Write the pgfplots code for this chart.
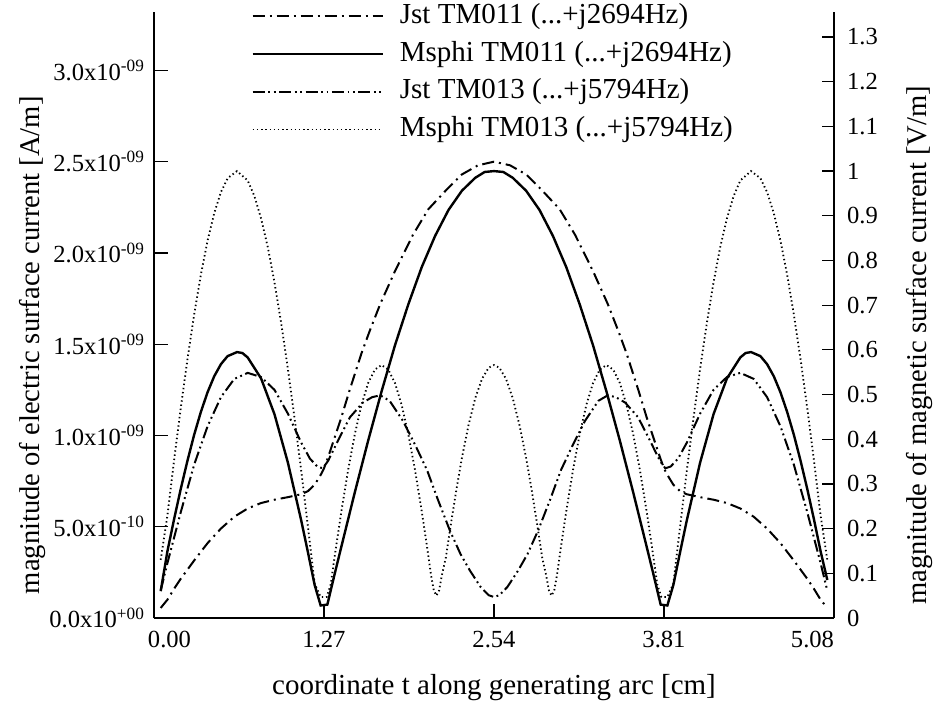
\documentclass[border=0pt]{standalone}
\usepackage{fontspec}
\setmainfont{Liberation Serif}
\usepackage{pgfplots}
\pgfplotsset{compat=1.18}
\usepackage{pgfplotstable}

\newcommand\tickfont{\fontsize{12.3}{14}\selectfont}
\newcommand\labfont{\fontsize{14.5}{17}\selectfont}
\newcommand\ylabfont{\fontsize{14.3}{17}\selectfont}

% Jst TM011 (left axis, A/m)
\pgfplotstableread{
t v
0.05 0.055e-9
0.10 0.10e-9
0.15 0.16e-9
0.20 0.215e-9
0.30 0.315e-9
0.40 0.41e-9
0.50 0.49e-9
0.60 0.555e-9
0.70 0.60e-9
0.80 0.63e-9
0.90 0.648e-9
1.00 0.662e-9
1.10 0.678e-9
1.15 0.695e-9
1.20 0.73e-9
1.25 0.79e-9
1.27 0.82e-9
1.30 0.88e-9
1.35 0.99e-9
1.40 1.10e-9
1.46 1.245e-9
1.55 1.45e-9
1.61 1.57e-9
1.69 1.72e-9
1.80 1.90e-9
1.935 2.10e-9
2.05 2.24e-9
2.19 2.35e-9
2.30 2.43e-9
2.42 2.48e-9
2.54 2.50e-9
2.66 2.48e-9
2.78 2.43e-9
2.89 2.35e-9
3.03 2.24e-9
3.145 2.10e-9
3.28 1.90e-9
3.39 1.72e-9
3.47 1.57e-9
3.53 1.45e-9
3.62 1.245e-9
3.68 1.10e-9
3.73 0.99e-9
3.78 0.88e-9
3.81 0.82e-9
3.83 0.79e-9
3.88 0.73e-9
3.93 0.695e-9
3.98 0.678e-9
4.08 0.662e-9
4.18 0.648e-9
4.28 0.63e-9
4.38 0.60e-9
4.48 0.555e-9
4.58 0.49e-9
4.68 0.41e-9
4.78 0.315e-9
4.88 0.215e-9
4.93 0.16e-9
4.98 0.10e-9
5.03 0.055e-9
}\jstA

% Jst TM013 (left axis, A/m)
\pgfplotstableread{
t v
0.05 0.15e-9
0.10 0.30e-9
0.20 0.58e-9
0.30 0.84e-9
0.40 1.05e-9
0.50 1.21e-9
0.60 1.31e-9
0.70 1.343e-9
0.80 1.32e-9
0.90 1.25e-9
1.00 1.12e-9
1.05 1.04e-9
1.10 0.96e-9
1.165 0.873e-9
1.22 0.83e-9
1.26 0.82e-9
1.30 0.86e-9
1.38 0.98e-9
1.464 1.10e-9
1.56 1.18e-9
1.63 1.21e-9
1.69 1.22e-9
1.76 1.19e-9
1.86 1.08e-9
1.95 0.95e-9
2.04 0.81e-9
2.12 0.65e-9
2.21 0.48e-9
2.29 0.35e-9
2.36 0.26e-9
2.44 0.17e-9
2.50 0.125e-9
2.54 0.115e-9
2.58 0.125e-9
2.64 0.17e-9
2.72 0.26e-9
2.79 0.35e-9
2.87 0.48e-9
2.96 0.65e-9
3.04 0.81e-9
3.13 0.95e-9
3.22 1.08e-9
3.32 1.19e-9
3.39 1.22e-9
3.45 1.21e-9
3.52 1.18e-9
3.616 1.10e-9
3.70 0.98e-9
3.78 0.86e-9
3.82 0.82e-9
3.86 0.83e-9
3.915 0.873e-9
3.98 0.96e-9
4.03 1.04e-9
4.08 1.12e-9
4.18 1.25e-9
4.28 1.32e-9
4.38 1.343e-9
4.48 1.31e-9
4.58 1.21e-9
4.68 1.05e-9
4.78 0.84e-9
4.88 0.58e-9
4.98 0.30e-9
5.03 0.15e-9
}\jstB

% Msphi TM011 (right axis, V/m)
\pgfplotstableread{
t w
0.05 0.06
0.10 0.149
0.15 0.221
0.20 0.289
0.25 0.352
0.30 0.410
0.35 0.461
0.40 0.505
0.45 0.541
0.50 0.568
0.55 0.586
0.62 0.595
0.66 0.593
0.70 0.583
0.80 0.536
0.90 0.456
1.00 0.348
1.10 0.218
1.15 0.147
1.20 0.074
1.245 0.028
1.295 0.03
1.35 0.099
1.40 0.160
1.50 0.281
1.60 0.397
1.70 0.507
1.80 0.610
1.90 0.702
2.00 0.785
2.10 0.855
2.20 0.913
2.30 0.956
2.40 0.985
2.47 0.998
2.54 1.0
2.61 0.998
2.68 0.985
2.78 0.956
2.88 0.913
2.98 0.855
3.08 0.785
3.18 0.702
3.28 0.610
3.38 0.507
3.48 0.397
3.58 0.281
3.68 0.160
3.73 0.099
3.785 0.03
3.835 0.028
3.88 0.074
3.93 0.147
3.98 0.218
4.08 0.348
4.18 0.456
4.28 0.536
4.38 0.583
4.42 0.593
4.46 0.595
4.53 0.586
4.58 0.568
4.63 0.541
4.68 0.505
4.73 0.461
4.78 0.410
4.83 0.352
4.88 0.289
4.93 0.221
4.98 0.149
5.03 0.085
}\msA

% Msphi TM013 (right axis, V/m)
\pgfplotstableread{
t w
0.05 0.13
0.10 0.229
0.15 0.353
0.20 0.470
0.25 0.579
0.30 0.679
0.35 0.768
0.40 0.844
0.45 0.906
0.50 0.953
0.55 0.984
0.62 1.0
0.70 0.979
0.75 0.944
0.80 0.894
0.85 0.830
0.90 0.751
0.95 0.660
1.00 0.558
1.05 0.447
1.10 0.329
1.15 0.204
1.20 0.077
1.245 0.047
1.29 0.047
1.32 0.075
1.36 0.159
1.40 0.239
1.45 0.331
1.50 0.411
1.55 0.477
1.60 0.526
1.65 0.556
1.70 0.566
1.75 0.556
1.80 0.526
1.85 0.477
1.90 0.411
1.95 0.331
2.00 0.239
2.04 0.159
2.07 0.095
2.09 0.062
2.11 0.05
2.13 0.062
2.15 0.095
2.18 0.135
2.22 0.214
2.26 0.289
2.30 0.358
2.35 0.432
2.40 0.492
2.45 0.535
2.50 0.560
2.54 0.566
2.58 0.560
2.63 0.535
2.68 0.492
2.73 0.432
2.78 0.358
2.82 0.289
2.86 0.214
2.90 0.135
2.93 0.095
2.95 0.062
2.97 0.05
2.99 0.062
3.01 0.095
3.04 0.159
3.08 0.239
3.13 0.331
3.18 0.411
3.23 0.477
3.28 0.526
3.33 0.556
3.38 0.566
3.43 0.556
3.48 0.526
3.53 0.477
3.58 0.411
3.63 0.331
3.68 0.239
3.72 0.159
3.76 0.075
3.79 0.047
3.835 0.047
3.88 0.077
3.93 0.204
3.98 0.329
4.03 0.447
4.08 0.558
4.13 0.660
4.18 0.751
4.23 0.830
4.28 0.894
4.33 0.944
4.38 0.979
4.46 1.0
4.53 0.984
4.58 0.953
4.63 0.906
4.68 0.844
4.73 0.768
4.78 0.679
4.83 0.579
4.88 0.470
4.93 0.353
4.98 0.229
5.03 0.13
}\msB

\tikzset{
  jstAstyle/.style={black, line width=1pt, line cap=butt, dash pattern=on 6pt off 2.5pt on 1pt off 2.5pt},
  msAstyle/.style={black, line width=1.2pt},
  jstBstyle/.style={black, line width=1pt, line cap=butt, dash pattern=on 6pt off 1.8pt on 0.9pt off 1.8pt on 0.9pt off 1.8pt},
  msBstyle/.style={black, line width=0.9pt, dash pattern=on 0.7pt off 1.4pt},
}

\begin{document}
\begin{tikzpicture}
\begin{axis}[
  at={(0pt,0pt)}, anchor=south west,
  scale only axis, width=340pt, height=303pt,
  xmin=0, xmax=5.08, ymin=0, ymax=3.32e-9,
  axis x line*=bottom, axis y line*=left,
  axis line style={-, line width=0.9pt},
  tick align=inside, major tick length=7pt,
  tick style={line width=0.6pt, black},
  xtick={0,1.27,2.54,3.81,5.08},
  xticklabels={\makebox[0pt][l]{\hspace*{-3pt}0.00},1.27,2.54,3.81,\makebox[0pt][r]{5.08}},
  ytick={0,0.5e-9,1e-9,1.5e-9,2e-9,2.5e-9,3e-9},
  yticklabels={0.0x10\textsuperscript{+00},5.0x10\textsuperscript{-10},1.0x10\textsuperscript{-09},1.5x10\textsuperscript{-09},2.0x10\textsuperscript{-09},2.5x10\textsuperscript{-09},3.0x10\textsuperscript{-09}},
  scaled y ticks=false, scaled x ticks=false,
  ticklabel style={font=\tickfont},
  yticklabel style={xshift=-1pt},
  xticklabel style={yshift=-3pt},
  xlabel style={font=\labfont, at={(axis description cs:0.5,-0.115)}, anchor=center},
  ylabel style={font=\ylabfont, at={(axis description cs:-0.179,0.45)}, anchor=center},
  xlabel={coordinate t along generating arc [cm]},
  ylabel={magnitude of electric surface current [A/m]},
]
\addplot[jstAstyle] table[x=t, y=v] {\jstA};
\addplot[jstBstyle] table[x=t, y=v] {\jstB};
\end{axis}
\begin{axis}[
  at={(0pt,0pt)}, anchor=south west,
  scale only axis, width=340pt, height=303pt,
  xmin=0, xmax=5.08, ymin=0, ymax=1.356,
  axis y line*=right, axis x line=none,
  ytick pos=right, yticklabel pos=right,
  axis line style={-, line width=0.9pt},
  tick align=inside, major tick length=6pt,
  tick style={line width=0.6pt, black},
  ytick={0,0.1,0.2,0.3,0.4,0.5,0.6,0.7,0.8,0.9,1,1.1,1.2,1.3},
  yticklabels={0,0.1,0.2,0.3,0.4,0.5,0.6,0.7,0.8,0.9,1,1.1,1.2,1.3},
  ticklabel style={font=\tickfont},
  yticklabel style={xshift=3pt},
  ylabel style={font=\ylabfont, at={(axis description cs:1.125,0.45)}, anchor=center},
  ylabel={magnitude of magnetic surface current [V/m]},
  legend style={at={(axis description cs:0.134,1.028)}, anchor=north west,
    draw=none, fill=none, font=\labfont, row sep=1.85pt, column sep=6.5pt,
    nodes={inner sep=1.5pt, text height=10.5pt, text depth=3.5pt}},
  legend cell align=left,
  legend image code/.code={\draw[#1] (0pt,0pt) -- (65pt,0pt);},
]
\addlegendimage{jstAstyle}
\addlegendentry{Jst TM011 (...+j2694Hz)}
\addplot[msAstyle] table[x=t, y=w] {\msA};
\addlegendentry{Msphi TM011 (...+j2694Hz)}
\addlegendimage{jstBstyle}
\addlegendentry{Jst TM013 (...+j5794Hz)}
\addplot[msBstyle] table[x=t, y=w] {\msB};
\addlegendentry{Msphi TM013 (...+j5794Hz)}
\end{axis}
\pgfresetboundingbox
\path[use as bounding box] (-77pt,-42pt) rectangle (391pt,309pt);
\end{tikzpicture}
\end{document}
